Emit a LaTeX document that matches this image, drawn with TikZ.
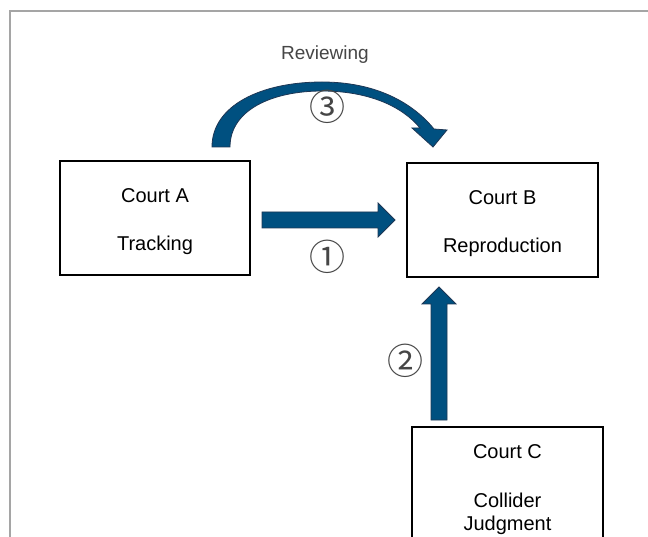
\documentclass[tikz,border=0pt]{standalone}
\usepackage{fontspec}
\setmainfont{Liberation Sans}
\newfontfamily\circfont{Noto Sans CJK JP}
\definecolor{arrowfill}{RGB}{0,80,128}
\definecolor{arrowedge}{RGB}{30,55,85}
\definecolor{framegray}{RGB}{165,165,165}
\definecolor{labelgray}{RGB}{70,70,70}
\begin{document}
\begin{tikzpicture}[x=1pt,y=-1pt,
  courtbox/.style={draw=black, line width=1.2pt, minimum width=190pt, minimum height=114pt, inner sep=0pt},
  courttext/.style={align=center, font=\fontsize{20}{23}\selectfont, inner sep=0pt},
  blockarrow/.style={fill=arrowfill, draw=arrowedge, line width=0.8pt, line join=miter},
  circnum/.style={font=\circfont\fontsize{36}{36}\selectfont, text=labelgray, inner sep=0pt},
  frameline/.style={draw=framegray, line width=1.5pt},
]
\clip (0,0) rectangle (648,537);
\fill[white] (0,0) rectangle (648,537);
% frame
\draw[frameline] (10,560) -- (10,11) -- (670,11);
% courts
\node[courtbox] (A) at (155,218) {};
\node[courttext] (Atext) at ([yshift=-4pt]A.center) {Court A\\[25pt]Tracking};
\node[courtbox, minimum width=191pt] (B) at (502.5,220) {};
\node[courttext] (Btext) at ([yshift=-4pt]B.center) {Court B\\[25pt]Reproduction};
\node[courtbox, minimum width=191pt, minimum height=120pt] (C) at (507.5,487) {};
\node[courttext] (Ctext) at ([yshift=-3pt]C.center) {Court C\\[26pt]Collider\\Judgment};
% arrow 1
\draw[blockarrow] (262,212) -- (378,212) -- (378,203) -- (395,220) -- (378,237) -- (378,228) -- (262,228) -- cycle;
% arrow 2
\draw[blockarrow] (431,420) -- (431,304) -- (422,304) -- (439,287) -- (456,304) -- (447,304) -- (447,420) -- cycle;
% arrow 3 (curved)
\draw[blockarrow] (212,147) .. controls (212,105) and (262,82) .. (322,82)
  .. controls (375,82) and (412,102) .. (434,129)
  -- (447,130) -- (433,147) -- (412,128) -- (420,128)
  .. controls (402,106) and (368,91) .. (322,91)
  .. controls (272,91) and (230,110) .. (230,147) -- cycle;
% labels
\node[font=\fontsize{19}{19}\selectfont, text=labelgray] (rev) at (325,55) {Reviewing};
\node[circnum] (n1) at (327,257) {①};
\node[circnum] (n2) at (405,361) {②};
\node[circnum] (n3) at (327,107) {③};
\end{tikzpicture}
\end{document}
